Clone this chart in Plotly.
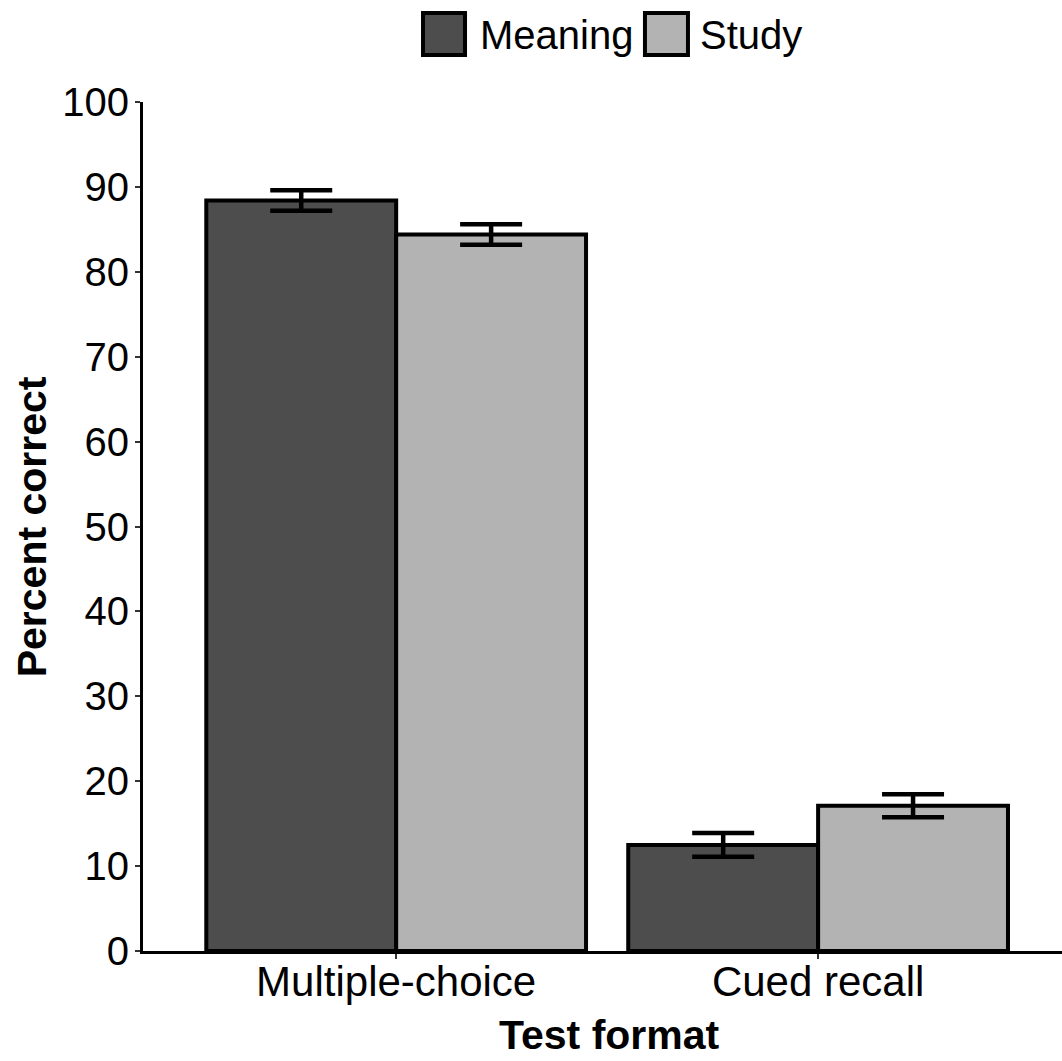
import plotly.graph_objects as go

categories = ["Multiple-choice", "Cued recall"]
conditions = ["Meaning", "Study"]
meaning_vals = [88.4, 12.5]
meaning_err = [1.2, 1.4]
study_vals = [84.4, 17.1]
study_err = [1.2, 1.35]
colors = {"Meaning": "#4d4d4d", "Study": "#b3b3b3"}
y_ticks = list(range(0, 101, 10))

FONT = "Liberation Sans, Arial, sans-serif"

fig = go.Figure()
for name, vals, errs in [("Meaning", meaning_vals, meaning_err), ("Study", study_vals, study_err)]:
    fig.add_trace(go.Bar(
        x=categories, y=vals, name=name,
        marker=dict(color=colors[name], line=dict(color="black", width=4)),
        error_y=dict(type="data", array=errs, visible=True, color="black", thickness=4.5, width=31),
        showlegend=False,
    ))

fig.update_layout(
    width=1062, height=1061,
    margin=dict(l=143, r=0, t=102, b=110),
    barmode="group", bargap=0.1, bargroupgap=0,
    plot_bgcolor="white", paper_bgcolor="white",
    font=dict(family=FONT, color="black"),
    xaxis=dict(
        type="category", range=[-0.6, 1.578],
        showline=True, linecolor="black", linewidth=3,
        ticks="outside", ticklen=5, tickwidth=1.5, tickcolor="#333333",
        tickfont=dict(size=42, color="black", family=FONT),
        ticklabelstandoff=-13,
        showgrid=False, zeroline=False,
    ),
    yaxis=dict(
        range=[0, 100], tickvals=y_ticks,
        showline=True, linecolor="black", linewidth=3,
        ticks="outside", ticklen=5, tickwidth=1.5, tickcolor="#333333",
        tickfont=dict(size=40, color="black", family=FONT),
        ticklabelstandoff=-2,
        showgrid=False, zeroline=False,
    ),
)

# axis titles
fig.add_annotation(text="<b>Percent correct</b>", xref="paper", yref="paper",
                   x=-0.121, y=0.5, xanchor="center", yanchor="middle",
                   textangle=-90, showarrow=False, font=dict(size=41, family=FONT, color="black"))
fig.add_annotation(text="<b>Test format</b>", xref="paper", yref="paper",
                   x=0.508, y=-0.099, xanchor="center", yanchor="middle",
                   showarrow=False, font=dict(size=41, family=FONT, color="black"))

# legend (top, horizontal)
legend_items = [("Meaning", 0.3047, 0.3504, 0.3645), ("Study", 0.5462, 0.5930, 0.6039)]
for name, x0, x1, tx in legend_items:
    fig.add_shape(type="rect", xref="paper", yref="paper", x0=x0, x1=x1, y0=1.0554, y1=1.1048,
                  fillcolor=colors[name], line=dict(color="black", width=4))
    fig.add_annotation(text=name, xref="paper", yref="paper", x=tx, y=1.0789,
                       xanchor="left", yanchor="middle", showarrow=False,
                       font=dict(size=40, family=FONT, color="black"))

fig.write_html("out.html", config={"displayModeBar": False},
               post_script="document.body.style.margin='0px';")
